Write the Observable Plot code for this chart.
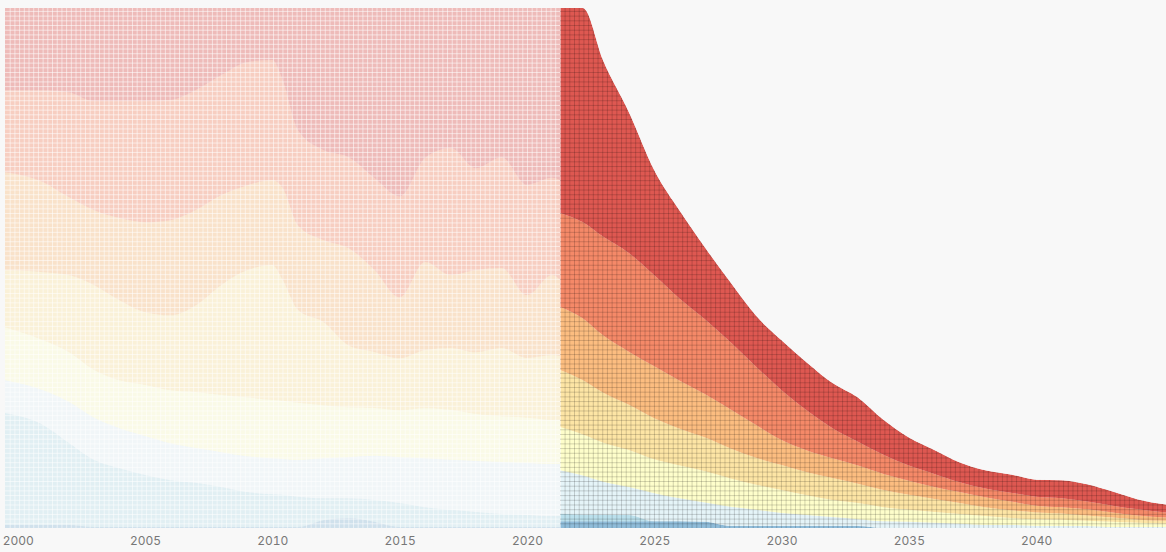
<!DOCTYPE html>
<html>
<head>
<meta charset="utf-8">
<script src="https://cdn.jsdelivr.net/npm/d3@7"></script>
<script src="https://cdn.jsdelivr.net/npm/@observablehq/plot@0.6"></script>
<style>
  html, body { margin: 0; padding: 0; background: #f8f8f8; }
  #chart { width: 1166px; height: 552px; overflow: hidden; }
</style>
</head>
<body>
<div id="chart"></div>
<script>
// ---- layers (bottom to top) and colours ----
const layers = ["h", "g", "f", "e", "d", "c", "b", "a"];
const layerColors = ["#74add1", "#abd9e9", "#e0f3f8", "#ffffbf", "#fee090", "#fdae61", "#f46d43", "#d73027"];

// ---- historical shares (top layer "a" ... bottom layer "h") ----
const histYears = [1999.5, 2001, 2002, 2003, 2004, 2005, 2006, 2007, 2008, 2009, 2010, 2010.4, 2011, 2012, 2013, 2014, 2015, 2016, 2017, 2018, 2019, 2020, 2021, 2021.3];
const histA = [15.8, 15.8, 16.2, 17.9, 17.9, 17.9, 17.7, 15.8, 12.9, 10.4, 10.0, 13.8, 23.5, 27.3, 28.7, 32.7, 36.2, 28.8, 26.9, 30.8, 28.7, 34.0, 32.7, 33.1];
const histB = [15.8, 17.7, 20.2, 21.0, 22.5, 23.3, 23.1, 23.1, 23.1, 23.7, 23.1, 20.8, 18.3, 17.3, 17.5, 17.7, 19.4, 20.0, 24.4, 19.6, 21.3, 21.2, 18.7, 19.2];
const histC = [18.8, 17.3, 15.0, 14.4, 15.8, 17.3, 18.3, 18.3, 17.3, 16.3, 16.3, 17.7, 16.3, 15.8, 18.7, 15.8, 11.7, 16.9, 14.0, 15.8, 15.4, 12.1, 15.4, 14.6];
const histD = [11.0, 13.1, 14.8, 16.3, 15.4, 14.0, 14.4, 16.7, 21.2, 24.4, 26.0, 23.3, 17.9, 16.0, 11.9, 10.8, 10.0, 11.2, 11.9, 11.9, 13.1, 11.5, 12.5, 12.3];
const histE = [10.2, 9.6, 9.6, 9.2, 9.2, 9.8, 10.2, 10.8, 11.0, 11.3, 11.2, 11.2, 11.0, 10.2, 9.6, 9.2, 9.0, 9.6, 9.6, 9.0, 8.8, 8.7, 8.5, 8.5];
const histF = [6.3, 6.7, 7.9, 8.1, 7.7, 7.5, 7.1, 6.7, 6.7, 6.9, 6.9, 6.9, 7.1, 7.7, 7.9, 8.5, 8.8, 9.4, 9.6, 9.8, 10.0, 10.0, 10.0, 10.0];
const histG = [21.5, 19.2, 15.8, 12.9, 11.3, 10.0, 9.0, 8.5, 7.7, 6.7, 6.3, 6.2, 5.8, 4.2, 3.8, 4.2, 4.6, 3.8, 3.3, 2.9, 2.5, 2.3, 2.1, 2.1];
const histH = [0.6, 0.6, 0.6, 0.2, 0.2, 0.2, 0.2, 0.2, 0.2, 0.2, 0.2, 0.2, 0.2, 1.5, 1.9, 1.2, 0.2, 0.2, 0.2, 0.2, 0.2, 0.2, 0.2, 0.2];

// ---- projection values ----
const projYears = [2021.3, 2022.2, 2023, 2024, 2025, 2026, 2027, 2028, 2029, 2030, 2031, 2032, 2033, 2034, 2035, 2036, 2037, 2038, 2039, 2040, 2041, 2042, 2043, 2044, 2045.1];
const projA = [39.4, 41.2, 33.8, 27.1, 20.2, 16.9, 13.8, 11.5, 9.8, 9.6, 9.2, 8.7, 8.5, 6.7, 5.4, 4.6, 3.8, 3.5, 3.5, 3.3, 3.5, 3.3, 2.7, 1.9, 1.5];
const projB = [18.1, 18.5, 19.0, 19.0, 17.5, 15.8, 14.4, 12.9, 11.2, 9.6, 7.7, 5.8, 4.6, 3.7, 2.9, 2.5, 1.9, 1.7, 1.7, 1.7, 1.7, 1.5, 1.3, 1.2, 1.0];
const projC = [12.1, 11.9, 11.0, 10.2, 10.0, 9.2, 8.3, 7.5, 6.3, 4.8, 4.2, 3.8, 3.5, 3.1, 2.7, 2.3, 2.1, 1.9, 1.7, 1.3, 1.2, 1.2, 1.0, 0.8, 0.6];
const projD = [11.0, 10.4, 9.6, 8.7, 7.9, 7.1, 6.5, 5.8, 5.2, 4.8, 4.4, 4.2, 3.7, 3.3, 2.9, 2.5, 2.1, 1.7, 1.5, 1.3, 1.2, 1.0, 0.8, 0.6, 0.6];
const projE = [8.3, 7.9, 7.5, 7.1, 6.5, 6.3, 6.0, 5.4, 4.8, 4.4, 3.8, 3.3, 3.1, 2.7, 2.3, 2.1, 1.9, 1.7, 1.3, 1.3, 1.2, 1.0, 1.0, 0.8, 0.6];
const projF = [8.3, 7.5, 6.3, 5.4, 5.4, 4.4, 3.7, 3.7, 3.1, 2.5, 2.1, 1.7, 1.3, 1.3, 1.2, 1.0, 0.8, 0.6, 0.6, 0.4, 0.4, 0.4, 0.2, 0.2, 0.2];
const projG = [1.5, 1.3, 1.3, 1.2, 0, 0, 0, 0, 0, 0, 0, 0, 0, 0, 0, 0, 0, 0, 0, 0, 0, 0, 0, 0, 0];
const projH = [1.3, 1.3, 1.3, 1.3, 1.3, 1.3, 1.2, 0.4, 0.4, 0.4, 0.4, 0.4, 0.4, 0, 0, 0, 0, 0, 0, 0, 0, 0, 0, 0, 0];

const tickYears = [2000, 2005, 2010, 2015, 2020, 2025, 2030, 2035, 2040];

// ---- build tidy tables ----
const histSeries = {a: histA, b: histB, c: histC, d: histD, e: histE, f: histF, g: histG, h: histH};
const projSeries = {a: projA, b: projB, c: projC, d: projD, e: projE, f: projF, g: projG, h: projH};

const histTotals = histYears.map((_, i) => layers.reduce((s, k) => s + histSeries[k][i], 0));
const hist = [];
for (const k of layers) histYears.forEach((yr, i) => hist.push({year: yr, layer: k, value: histSeries[k][i] * 100 / histTotals[i]}));
const proj = [];
for (const k of layers) projYears.forEach((yr, i) => proj.push({year: yr, layer: k, value: projSeries[k][i]}));
const projTotal = projYears.map((yr, i) => ({year: yr, total: layers.reduce((s, k) => s + projSeries[k][i], 0)}));

const xStart = 1999.5, xSplit = 2021.3, xEnd = 2045.1;
const cellX = 0.1847, cellY = 0.904;
const gridX = d3.range(xStart + cellX, xEnd, cellX);
const gridY = d3.range(cellY, 100, cellY);
const curve = "monotone-x";

const chart = Plot.plot({
  width: 1166,
  height: 552,
  marginLeft: 5,
  marginRight: 0,
  marginTop: 8,
  marginBottom: 24,
  x: {domain: [xStart, xEnd], axis: null},
  y: {domain: [0, 100], axis: null},
  color: {domain: layers, range: layerColors},
  style: {background: "#f8f8f8", fontFamily: "Inter, 'Noto Sans', sans-serif"},
  marks: [
    Plot.areaY(hist, {x: "year", y: "value", z: "layer", fill: "layer", fillOpacity: 0.3, curve}),
    Plot.areaY(proj, {x: "year", y: "value", z: "layer", fill: "layer", fillOpacity: 0.8, curve}),
    // cell grid
    Plot.ruleX(gridX.filter(d => d <= xSplit), {y1: 0, y2: 100, stroke: "#ffffff", strokeOpacity: 0.55, strokeWidth: 1}),
    Plot.ruleY(gridY, {x1: xStart, x2: xSplit, stroke: "#ffffff", strokeOpacity: 0.55, strokeWidth: 1}),
    Plot.ruleX(gridX.filter(d => d > xSplit), {y1: 0, y2: 100, stroke: "#000000", strokeOpacity: 0.17, strokeWidth: 1}),
    Plot.ruleY(gridY, {x1: xSplit, x2: xEnd, stroke: "#000000", strokeOpacity: 0.17, strokeWidth: 1}),
    // blank out the grid above the projected total
    Plot.areaY(projTotal, {x: "year", y1: "total", y2: 100, fill: "#f8f8f8", curve}),
    Plot.axisX({ticks: tickYears, tickFormat: d => String(d), tickSize: 0, tickPadding: 8, fontSize: 12, fill: "#777", label: null})
  ]
});
document.getElementById("chart").appendChild(chart);
</script>
</body>
</html>
